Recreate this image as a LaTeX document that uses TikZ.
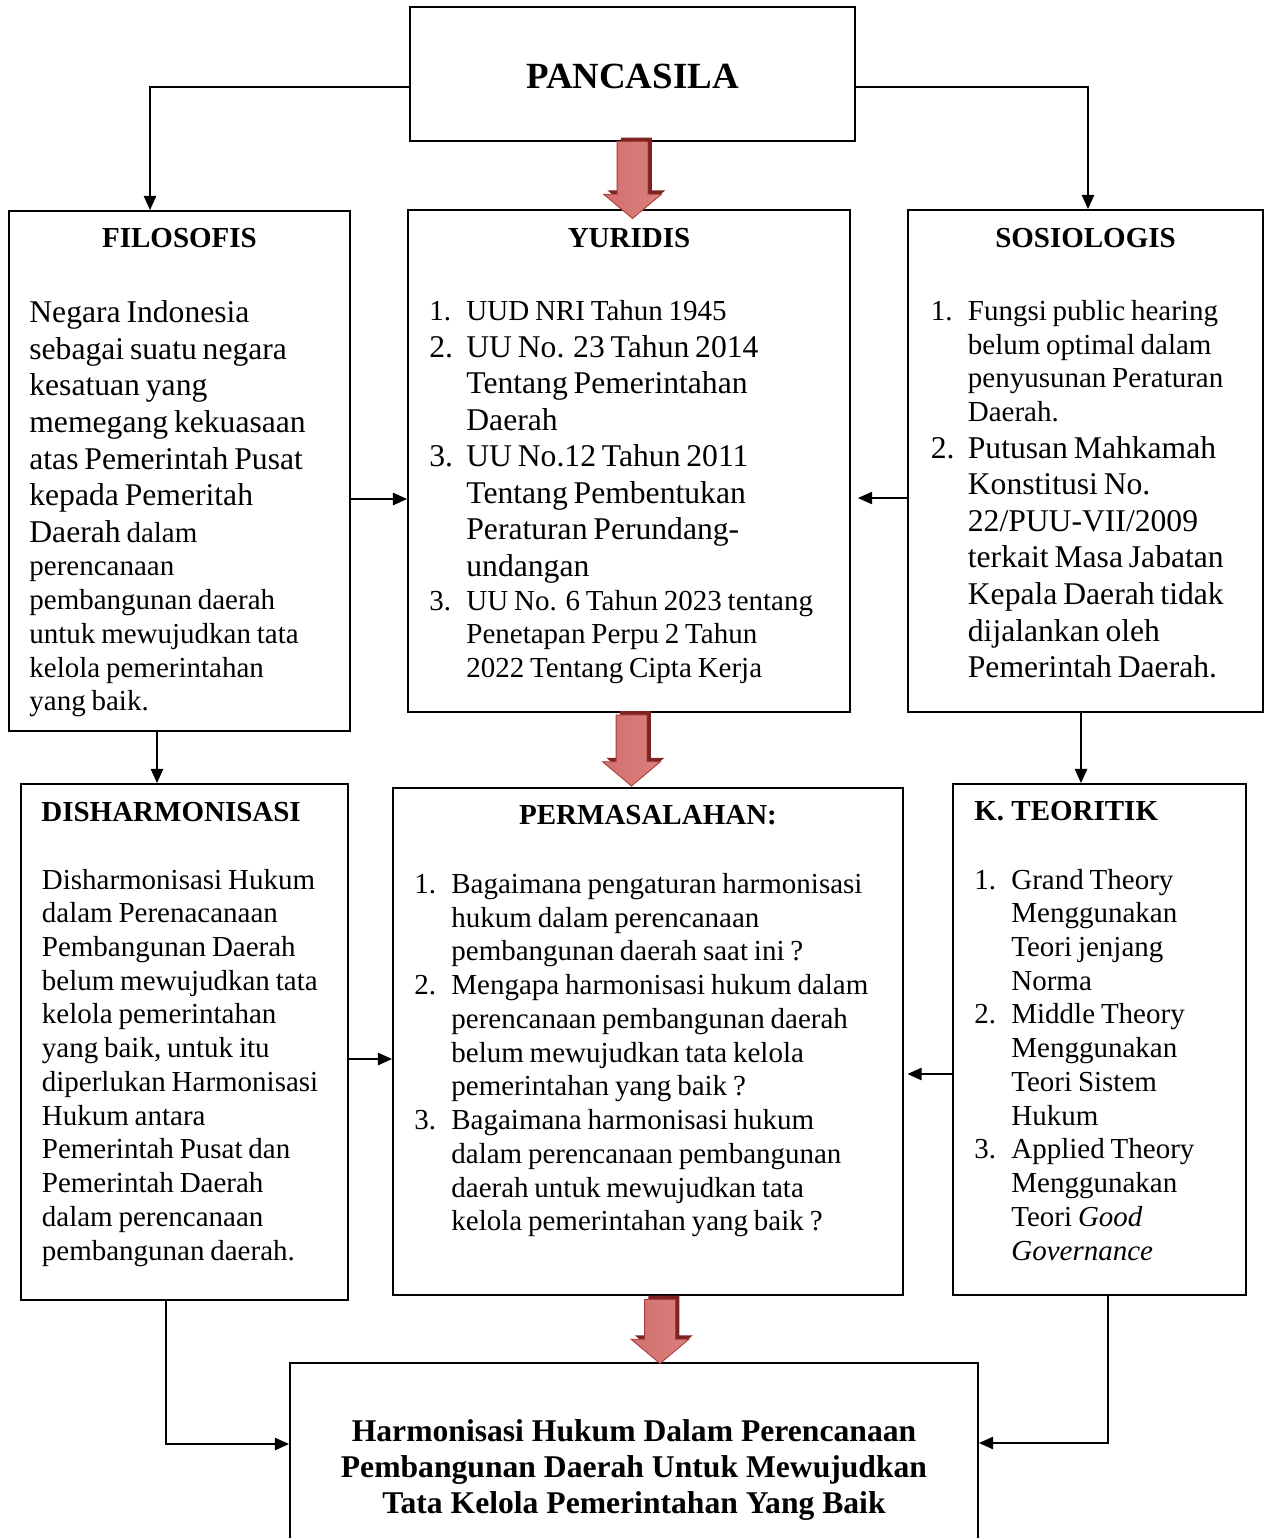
\documentclass[tikz,border=0pt]{standalone}
\usepackage{fontspec}
\setmainfont{Liberation Serif}
\usetikzlibrary{arrows.meta,positioning,calc,shapes.arrows,shadows}

\setlength{\parindent}{0pt}
\definecolor{merah}{RGB}{186,68,65}
\definecolor{merahmuda}{RGB}{210,112,110}
\definecolor{merahterang}{RGB}{218,128,126}
\definecolor{merahtua}{RGB}{125,36,34}
\definecolor{merahtepi}{RGB}{170,58,55}

\newcommand{\besar}{\fontsize{18}{20.8}\selectfont}
\newcommand{\kecil}{\fontsize{16.5}{19.2}\selectfont}
\newcommand{\butir}[1]{\hangindent=0.74cm\hangafter=1\noindent\makebox[0.74cm][l]{#1}\ignorespaces}

\begin{document}
\begin{tikzpicture}[
    kotak/.style={draw, line width=1.1pt, inner sep=0pt},
    judul/.style={font=\bfseries\fontsize{16.5}{19}\selectfont, inner sep=0pt, anchor=base},
    isi/.style={anchor=north west, inner sep=0pt, align=left},
    garis/.style={line width=0.8pt, -{Triangle[length=8pt,width=7pt]}},
    panahmerah/.style={single arrow, rotate=-90, inner xsep=0pt, inner ysep=0.3cm,
                 single arrow head extend=0.27cm, single arrow head indent=0pt,
                 single arrow tip angle=100, draw=merahtepi, line width=0.5pt,
                 left color=merahmuda, middle color=merah, right color=merahterang,
                 general shadow={fill=merahtua, shadow xshift=2.2pt, shadow yshift=2.2pt}},
]
\useasboundingbox (0,0) rectangle (25.34,-30.76);

% kotak-kotak
\node[kotak, minimum width=8.9cm, minimum height=2.68cm] (panc) at (12.65,-1.48) {};
\node[kotak, minimum width=6.82cm, minimum height=10.4cm] (filo) at (3.59,-9.42) {};
\node[kotak, minimum width=8.84cm, minimum height=10.04cm] (yur) at (12.58,-9.22) {};
\node[kotak, minimum width=7.1cm, minimum height=10.04cm] (sosi) at (21.71,-9.22) {};
\node[kotak, minimum width=6.54cm, minimum height=10.32cm] (dish) at (3.69,-20.84) {};
\node[kotak, minimum width=10.2cm, minimum height=10.14cm] (perm) at (12.96,-20.83) {};
\node[kotak, minimum width=5.86cm, minimum height=10.22cm] (kteo) at (21.99,-20.79) {};
\node[kotak, minimum width=13.76cm, minimum height=4.2cm] (hasil) at (12.68,-29.36) {};

% judul
\node[judul, font=\bfseries\fontsize{21}{24}\selectfont] (pancT) at ([yshift=-0.29cm]panc.center) {PANCASILA};
\node[judul] (filoJ) at ([yshift=-0.75cm]filo.north) {FILOSOFIS};
\node[judul] (yurJ) at ([yshift=-0.77cm]yur.north) {YURIDIS};
\node[judul] (sosiJ) at ([yshift=-0.77cm]sosi.north) {SOSIOLOGIS};
\node[judul, anchor=base west] (dishJ) at ([xshift=0.42cm,yshift=-0.77cm]dish.north west) {DISHARMONISASI};
\node[judul] (permJ) at ([yshift=-0.74cm]perm.north) {PERMASALAHAN:};
\node[judul, anchor=base west] (kteoJ) at ([xshift=0.44cm,yshift=-0.75cm]kteo.north west) {K. TEORITIK};

% isi
\node[isi, text width=6.3cm] (filoT) at ([xshift=0.42cm,yshift=-1.81cm]filo.north west)
  {\besar Negara Indonesia\newline sebagai suatu negara\newline kesatuan yang\newline memegang kekuasaan\newline
   atas Pemerintah Pusat\newline kepada Pemeritah\newline Daerah {\kecil dalam}\par
   \kecil perencanaan\newline pembangunan daerah\newline untuk mewujudkan tata\newline kelola pemerintahan\newline yang baik.\par};
\node[isi, text width=8.2cm] (yurT) at ([xshift=0.44cm,yshift=-1.82cm]yur.north west)
  {\kecil\butir{1.}UUD NRI Tahun 1945\par
   \besar\butir{2.}UU No. 23 Tahun 2014\newline Tentang Pemerintahan\newline Daerah\par
   \butir{3.}UU No.12 Tahun 2011\newline Tentang Pembentukan\newline Peraturan Perundang-\newline undangan\par
   \kecil\butir{3.}UU No. 6 Tahun 2023 tentang\newline Penetapan Perpu 2 Tahun\newline 2022 Tentang Cipta Kerja\par};
\node[isi, text width=6.5cm] (sosiT) at ([xshift=0.47cm,yshift=-1.82cm]sosi.north west)
  {\kecil\butir{1.}Fungsi public hearing\newline belum optimal dalam\newline penyusunan Peraturan\newline Daerah.\par
   \besar\butir{2.}Putusan Mahkamah\newline Konstitusi No.\newline 22/PUU-VII/2009\newline terkait Masa Jabatan\newline
   Kepala Daerah tidak\newline dijalankan oleh\newline Pemerintah Daerah.\par};
\node[isi, text width=6.0cm] (dishT) at ([xshift=0.43cm,yshift=-1.71cm]dish.north west)
  {\kecil Disharmonisasi Hukum\newline dalam Perenacanaan\newline Pembangunan Daerah\newline belum mewujudkan tata\newline
   kelola pemerintahan\newline yang baik, untuk itu\newline diperlukan Harmonisasi\newline Hukum antara\newline
   Pemerintah Pusat dan\newline Pemerintah Daerah\newline dalam perencanaan\newline pembangunan daerah.\par};
\node[isi, text width=9.6cm] (permT) at ([xshift=0.44cm,yshift=-1.72cm]perm.north west)
  {\kecil\butir{1.}Bagaimana pengaturan harmonisasi\newline hukum dalam perencanaan\newline pembangunan daerah saat ini ?\par
   \butir{2.}Mengapa harmonisasi hukum dalam\newline perencanaan pembangunan daerah\newline belum mewujudkan tata kelola\newline pemerintahan yang baik ?\par
   \butir{3.}Bagaimana harmonisasi hukum\newline dalam perencanaan pembangunan\newline daerah untuk mewujudkan tata\newline kelola pemerintahan yang baik ?\par};
\node[isi, text width=5.3cm] (kteoT) at ([xshift=0.44cm,yshift=-1.71cm]kteo.north west)
  {\kecil\butir{1.}Grand Theory\newline Menggunakan\newline Teori jenjang\newline Norma\par
   \butir{2.}Middle Theory\newline Menggunakan\newline Teori Sistem\newline Hukum\par
   \butir{3.}Applied Theory\newline Menggunakan\newline Teori \textit{Good}\newline \textit{Governance}\par};
\node[font=\bfseries\fontsize{18}{20.6}\selectfont, align=center, anchor=north, inner sep=0pt] (hasilT)
  at ([yshift=-1.14cm]hasil.north)
  {Harmonisasi Hukum Dalam Perencanaan\\Pembangunan Daerah Untuk Mewujudkan\\Tata Kelola Pemerintahan Yang Baik};

% panah tebal
\node[panahmerah, minimum height=1.54cm] (p1) at ([yshift=0.04cm]$(panc.south)!0.5!(panc.south |- yur.north)$) {};
\node[panahmerah, minimum height=1.42cm] (p2) at ([xshift=0.05cm,yshift=0.12cm]$(yur.south)!0.5!(yur.south |- perm.north)$) {};
\node[panahmerah, minimum height=1.28cm] (p3) at ([xshift=0.24cm,yshift=0.08cm]$(perm.south)!0.5!(perm.south |- hasil.north)$) {};

% garis penghubung
\draw[garis] ([yshift=-0.26cm]panc.west) -| ([xshift=-0.59cm]filo.north);
\draw[garis] ([yshift=-0.26cm]panc.east) -| ([xshift=0.05cm]sosi.north);
\draw[garis] ([yshift=-0.56cm]filo.east) -- ([yshift=-0.56cm]filo.east -| yur.west);
\draw[garis, shorten >=4pt] ([yshift=-0.74cm]sosi.west) -- ([yshift=-0.74cm]sosi.west -| yur.east);
\draw[garis] ([xshift=-0.45cm]filo.south) -- ([xshift=-0.45cm]filo.south |- dish.north);
\draw[garis] ([xshift=-0.09cm]sosi.south) -- ([xshift=-0.09cm]sosi.south |- kteo.north);
\draw[garis] ([yshift=-0.34cm]dish.east) -- ([yshift=-0.34cm]dish.east -| perm.west);
\draw[garis, shorten >=2pt] ([yshift=-0.69cm]kteo.west) -- ([yshift=-0.69cm]kteo.west -| perm.east);
\draw[garis] ([xshift=-0.37cm]dish.south) |- ([yshift=0.48cm]hasil.west);
\draw[garis] ([xshift=0.17cm]kteo.south) |- ([yshift=0.5cm]hasil.east);
\end{tikzpicture}
\end{document}
